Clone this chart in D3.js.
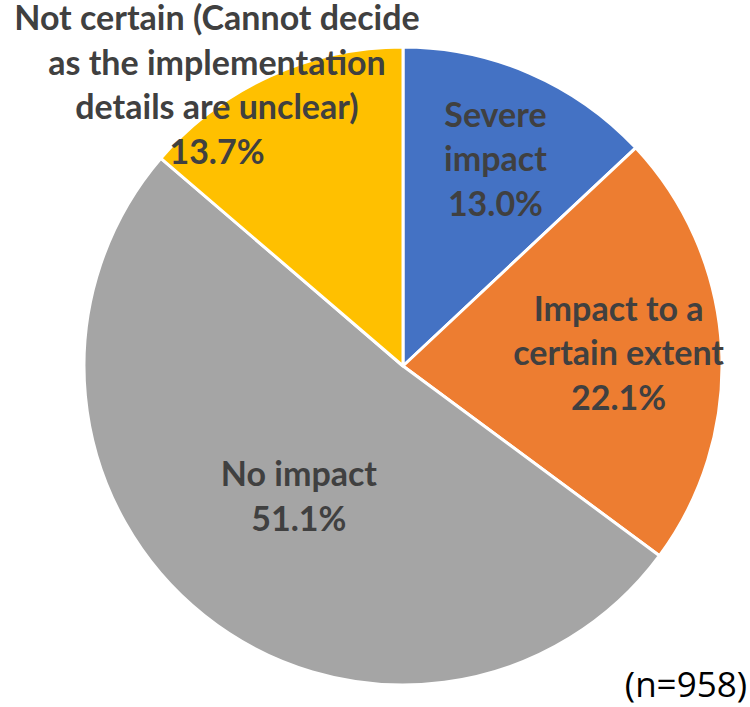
<!DOCTYPE html>
<html><head><meta charset="utf-8">
<script src="https://cdn.jsdelivr.net/npm/d3@7"></script>
<style>body{margin:0;background:#fff}svg{display:block}</style>
</head><body>
<svg id="c" width="750" height="707"></svg>
<script>
const categories = ["Severe impact", "Impact to a certain extent", "No impact", "Not certain (Cannot decide as the implementation details are unclear)"];
const values = [13.0, 22.1, 51.1, 13.7];
const labelLines = [["Severe", "impact"], ["Impact to a", "certain extent"], ["No impact"], ["Not certain (Cannot decide", "as the implementation", "details are unclear)"]];
const colors = ["#4472C4", "#ED7D31", "#A5A5A5", "#FFC000"];
const note = "(n=958)";

const svg = d3.select("#c");
const cx = 403, cy = 366, R = 319;
const labelR = [225, 216, 167, 309];
const labelDx = [3, 0, 0, -57];
const g = svg.append("g").attr("transform", `translate(${cx},${cy})`);
const pie = d3.pie().sort(null).value(d => d)(values);
const arc = d3.arc().innerRadius(0).outerRadius(R);
g.selectAll("path").data(pie).join("path")
  .attr("d", arc).attr("fill", (d, i) => colors[i])
  .attr("stroke", "#fff").attr("stroke-width", 3).attr("stroke-linejoin", "round");

const lh = 44.5;
pie.forEach((d, i) => {
  const a = (d.startAngle + d.endAngle) / 2;
  const x = Math.sin(a) * labelR[i] + labelDx[i], y = -Math.cos(a) * labelR[i];
  const lines = labelLines[i].concat([d3.format(".1f")(values[i]) + "%"]);
  const t = g.append("text").attr("text-anchor", "middle")
    .attr("font-family", "Lato, 'Open Sans', sans-serif").attr("font-weight", "bold")
    .attr("font-size", 34).attr("fill", "#404040");
  const y0 = y - (lines.length - 1) * lh / 2;
  lines.forEach((l, j) => t.append("tspan").attr("x", x).attr("y", y0 + j * lh).attr("dy", "0.35em").text(l));
});

svg.append("text").attr("x", 747).attr("y", 697).attr("text-anchor", "end")
  .attr("font-family", "'Open Sans', sans-serif").attr("font-size", 35).attr("fill", "#000").text(note);
</script>
</body></html>
